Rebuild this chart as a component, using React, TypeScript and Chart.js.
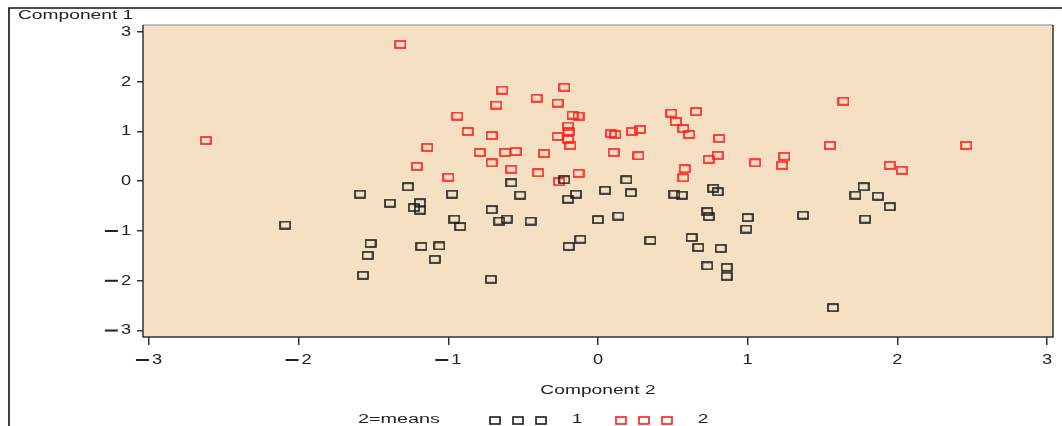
import React, { useEffect, useRef } from "react";
import { Chart, registerables } from "chart.js";

Chart.register(...registerables);

// ---- Data ----
const seriesNames = ["1", "2"];
const seriesColors = ["#1c1c1c", "#ff1a1a"];
const legendTitle = "2=means";
const xTitle = "Component 2";
const yTitle = "Component 1";
const xTicks = [-3, -2, -1, 0, 1, 2, 3];
const yTicks = [-3, -2, -1, 0, 1, 2, 3];

// cluster 1 (black): x = Component 2, y = Component 1
const cluster1X = [
  -2.09, -1.59, -1.27, -1.39, -1.23, -1.19, -1.19, -0.975, -0.96, -0.92,
  -1.52, -1.54, -1.57, -1.18, -1.06, -1.09, -0.58, -0.52, -0.225, -0.2,
  -0.147, 0.047, 0.19, 0.22, 0.51, 0.56, 0.77, 0.8, -0.71, -0.66,
  -0.61, -0.45, 0.0, 0.136, 0.73, 0.74, 1.0, 0.99, -0.118, -0.196,
  0.35, 0.625, 0.67, 0.82, 0.73, 0.86, 0.86, -0.715, 1.775, 1.72,
  1.87, 1.95, 1.785, 1.37, 1.57,
];
const cluster1Y = [
  -0.88, -0.26, -0.11, -0.44, -0.53, -0.43, -0.58, -0.26, -0.76, -0.91,
  -1.25, -1.49, -1.89, -1.31, -1.3, -1.57, -0.03, -0.28, 0.03, -0.36,
  -0.26, -0.18, 0.03, -0.23, -0.26, -0.28, -0.14, -0.21, -0.57, -0.8,
  -0.76, -0.8, -0.77, -0.7, -0.61, -0.71, -0.73, -0.96, -1.165, -1.31,
  -1.19, -1.13, -1.33, -1.35, -1.7, -1.73, -1.91, -1.97, -0.11, -0.28,
  -0.3, -0.51, -0.76, -0.68, -2.54,
];

// cluster 2 (red)
const cluster2X = [
  -2.62, -1.32, -1.14, -1.21, -1.0, -0.64, -0.68, -0.94, -0.87, -0.71,
  -0.79, -0.62, -0.55, -0.71, -0.58, -0.41, -0.225, -0.27, -0.17, -0.13,
  -0.2, -0.196, -0.27, -0.2, -0.185, -0.36, -0.4, -0.13, -0.26, 0.087,
  0.116, 0.227, 0.28, 0.105, 0.27, 0.49, 0.655, 0.52, 0.57, 0.61,
  0.81, 0.74, 0.8, 0.58, 0.57, 1.05, 1.245, 1.23, 1.55, 1.64,
  1.95, 2.03, 2.46,
];
const cluster2Y = [
  0.82, 2.75, 0.68, 0.3, 0.08, 1.83, 1.53, 1.31, 1.0, 0.92,
  0.58, 0.58, 0.6, 0.37, 0.24, 1.67, 1.89, 1.57, 1.33, 1.31,
  1.11, 1.0, 0.9, 0.84, 0.72, 0.56, 0.17, 0.16, -0.01, 0.96,
  0.94, 1.0, 1.04, 0.58, 0.51, 1.37, 1.4, 1.2, 1.06, 0.94,
  0.86, 0.44, 0.52, 0.25, 0.07, 0.37, 0.5, 0.32, 0.72, 1.61,
  0.32, 0.22, 0.72,
];

const FONT = '"Liberation Sans", Arial, Helvetica, sans-serif';
const TEXT_COLOR = "#222";

function makeMarker(color: string): HTMLCanvasElement {
  const c = document.createElement("canvas");
  c.width = 12;
  c.height = 9;
  const g = c.getContext("2d")!;
  g.strokeStyle = color;
  g.lineWidth = 1.6;
  g.strokeRect(1, 1, 10, 7);
  return c;
}

function stretchedText(
  ctx: CanvasRenderingContext2D,
  text: string,
  x: number,
  y: number,
  size: number,
  sx: number,
  align: CanvasTextAlign
) {
  ctx.save();
  ctx.translate(x, y);
  ctx.scale(sx, 1);
  ctx.font = `${size}px ${FONT}`;
  ctx.fillStyle = TEXT_COLOR;
  ctx.textAlign = align;
  ctx.textBaseline = "middle";
  ctx.fillText(text, 0, 0);
  ctx.restore();
}

// tick number with a long SAS-style minus sign
function drawTickNumber(
  ctx: CanvasRenderingContext2D,
  v: number,
  x: number,
  y: number,
  align: "center" | "right"
) {
  const size = 14;
  const sx = 1.3;
  const digits = String(Math.abs(v));
  ctx.save();
  ctx.font = `${size}px ${FONT}`;
  const dw = ctx.measureText(digits).width * sx;
  ctx.restore();
  const minusW = v < 0 ? 13 : 0;
  const gap = v < 0 ? 3 : 0;
  const total = minusW + gap + dw;
  const left = align === "center" ? x - total / 2 : x - total;
  if (v < 0) {
    ctx.save();
    ctx.fillStyle = TEXT_COLOR;
    ctx.fillRect(left, y - 1, minusW, 2);
    ctx.restore();
  }
  stretchedText(ctx, digits, left + minusW + gap, y, size, sx, "left");
}

export default function App() {
  const canvasRef = useRef<HTMLCanvasElement | null>(null);

  useEffect(() => {
    const canvas = canvasRef.current;
    if (!canvas) return;
    const markers = seriesColors.map((c) => makeMarker(c));

    const decor = {
      id: "decor",
      beforeDraw(chart: any) {
        const { ctx, chartArea: a } = chart;
        ctx.save();
        ctx.fillStyle = "#fff";
        ctx.fillRect(0, 0, chart.width, chart.height);
        ctx.fillStyle = "#f6e0c3";
        ctx.fillRect(a.left, a.top, a.right - a.left, a.bottom - a.top);
        // outer frame
        ctx.strokeStyle = "#111";
        ctx.lineWidth = 1.6;
        ctx.beginPath();
        ctx.moveTo(9, chart.height);
        ctx.lineTo(9, 8);
        ctx.lineTo(chart.width, 8);
        ctx.stroke();
        ctx.restore();
      },
      afterDraw(chart: any) {
        const { ctx, chartArea: a, scales } = chart;
        ctx.save();
        // plot frame
        ctx.lineWidth = 1.5;
        ctx.strokeStyle = "#a8a8a8";
        ctx.beginPath();
        ctx.moveTo(a.left, a.top);
        ctx.lineTo(a.right, a.top);
        ctx.stroke();
        ctx.strokeStyle = "#333";
        ctx.beginPath();
        ctx.moveTo(a.left, a.top);
        ctx.lineTo(a.left, a.bottom);
        ctx.lineTo(a.right, a.bottom);
        ctx.lineTo(a.right, a.top);
        ctx.stroke();
        ctx.restore();

        // tick labels
        scales.x.ticks.forEach((t: any) => {
          const px = scales.x.getPixelForValue(t.value);
          drawTickNumber(ctx, t.value, px, a.bottom + 23, "center");
        });
        scales.y.ticks.forEach((t: any) => {
          const py = scales.y.getPixelForValue(t.value);
          drawTickNumber(ctx, t.value, a.left - 12, py, "right");
        });

        // axis titles
        const sx = 1.6;
        stretchedText(ctx, yTitle, 18, 16, 12, sx, "left");
        stretchedText(ctx, xTitle, (a.left + a.right) / 2, 391, 12, sx, "center");

        // legend
        const ly = 420;
        stretchedText(ctx, legendTitle, 358, ly, 12, 1.65, "left");
        const groups = [495, 621];
        seriesNames.forEach((name, i) => {
          const m = markers[i];
          for (let k = 0; k < 3; k++) {
            const cx = groups[i] + k * 23;
            ctx.drawImage(m, Math.round(cx - m.width / 2), Math.round(ly - m.height / 2));
          }
          stretchedText(ctx, name, groups[i] + 82, ly, 12, 1.6, "center");
        });
      },
    };

    const chart = new Chart(canvas, {
      type: "scatter",
      data: {
        datasets: [
          {
            label: seriesNames[0],
            data: cluster1X.map((x, i) => ({ x, y: cluster1Y[i] })),
            pointStyle: markers[0] as any,
            pointRadius: 6,
            borderColor: seriesColors[0],
            backgroundColor: "transparent",
          },
          {
            label: seriesNames[1],
            data: cluster2X.map((x, i) => ({ x, y: cluster2Y[i] })),
            pointStyle: markers[1] as any,
            pointRadius: 6,
            borderColor: seriesColors[1],
            backgroundColor: "transparent",
          },
        ],
      },
      options: {
        animation: false,
        responsive: false,
        devicePixelRatio: 1,
        layout: { padding: { left: 0, right: 9, top: 25, bottom: 0 } },
        plugins: {
          legend: { display: false },
          tooltip: { enabled: false },
          title: { display: false },
        },
        scales: {
          x: {
            type: "linear",
            min: -3.04,
            max: 3.04,
            afterBuildTicks: (s: any) => {
              s.ticks = xTicks.map((v) => ({ value: v }));
            },
            afterFit: (s: any) => {
              s.height = 89;
            },
            ticks: { display: false },
            grid: {
              drawOnChartArea: false,
              drawTicks: true,
              tickLength: 8,
              color: "#333",
              lineWidth: 1.5,
            },
            border: { display: false },
          },
          y: {
            type: "linear",
            min: -3.13,
            max: 3.14,
            afterBuildTicks: (s: any) => {
              s.ticks = yTicks.map((v) => ({ value: v }));
            },
            afterFit: (s: any) => {
              s.width = 143;
            },
            ticks: { display: false },
            grid: {
              drawOnChartArea: false,
              drawTicks: true,
              tickLength: 6,
              color: "#333",
              lineWidth: 1.5,
            },
            border: { display: false },
          },
        },
      },
      plugins: [decor],
    });

    return () => chart.destroy();
  }, []);

  return (
    <div
      style={{
        position: "absolute",
        left: 0,
        top: 0,
        width: 1062,
        height: 426,
        overflow: "hidden",
        background: "#fff",
      }}
    >
      <canvas
        ref={canvasRef}
        width={1062}
        height={426}
        style={{ width: 1062, height: 426, display: "block" }}
      />
    </div>
  );
}
